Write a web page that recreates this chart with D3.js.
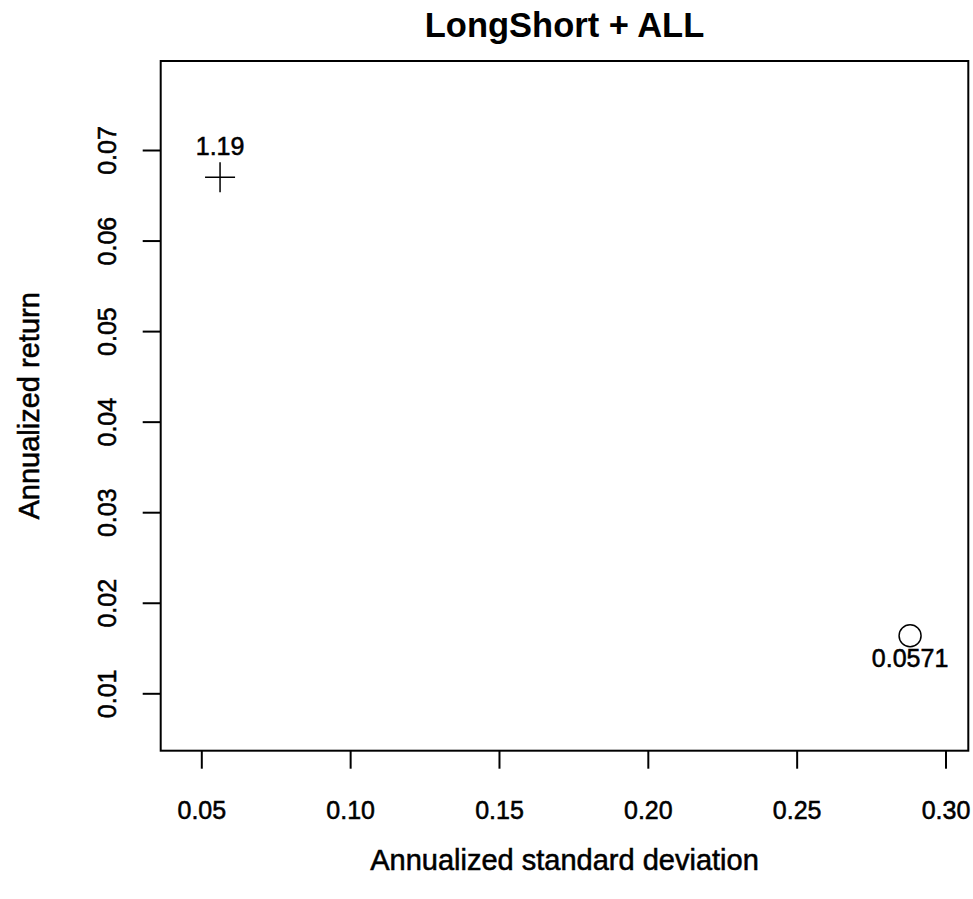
<!DOCTYPE html>
<html>
<head>
<meta charset="utf-8">
<script src="https://cdn.jsdelivr.net/npm/d3@7"></script>
<style>
  body { margin: 0; background: #fff; }
  svg text { font-family: "Liberation Sans", Arial, sans-serif; fill: #000; }
  svg text.heavy { stroke: #000; stroke-width: 0.55px; }
</style>
</head>
<body>
<div id="chart_container"></div>
<script>
const chartTitle = "LongShort + ALL";
const xTitle = "Annualized standard deviation";
const yTitle = "Annualized return";

const xTicks = [0.05, 0.1, 0.15, 0.2, 0.25, 0.3];
const yTicks = [0.01, 0.02, 0.03, 0.04, 0.05, 0.06, 0.07];

// annualized std dev / return for each series, plus the printed ratio
const sdValues = [0.0563, 0.2881];
const retValues = [0.0670, 0.01635];
const pointLabels = ["1.19", "0.0571"];
const pointShapes = ["cross", "circle"];
const labelSide = ["above", "below"];

let width = 973;
let height = 899;
let margin = { left: 160.7, right: 4.7, top: 61, bottom: 148.3 };

let svg = d3
  .select("#chart_container")
  .append("svg")
  .attr("width", width)
  .attr("height", height);

let x = d3
  .scaleLinear()
  .domain([0.03636, 0.30766])
  .range([margin.left, width - margin.right]);
let y = d3
  .scaleLinear()
  .domain([0.003661, 0.07983])
  .range([height - margin.bottom, margin.top]);

// x axis
let xAxis = svg
  .append("g")
  .attr("transform", "translate(0," + (height - margin.bottom) + ")")
  .call(
    d3.axisBottom(x)
      .tickValues(xTicks)
      .tickSize(18)
      .tickPadding(33)
      .tickFormat(d3.format(".2f"))
  );
xAxis.select(".domain").remove();
xAxis.selectAll("line").attr("stroke", "#000").attr("stroke-width", 2);
xAxis
  .selectAll("text")
  .attr("class", "heavy")
  .attr("font-size", "25px")
  .attr("font-family", null);

// y axis, labels turned like R does
let yAxis = svg
  .append("g")
  .attr("transform", "translate(" + margin.left + ",0)")
  .call(
    d3.axisLeft(y)
      .tickValues(yTicks)
      .tickSize(18)
      .tickFormat(d3.format(".2f"))
  );
yAxis.select(".domain").remove();
yAxis.selectAll("line").attr("stroke", "#000").attr("stroke-width", 2);
yAxis
  .selectAll("text")
  .attr("class", "heavy")
  .attr("x", 0)
  .attr("y", 0)
  .attr("dy", null)
  .attr("text-anchor", "middle")
  .attr("transform", "translate(-44.7,0) rotate(-90)")
  .attr("font-size", "25px")
  .attr("font-family", null);

// plot box
svg
  .append("rect")
  .attr("x", margin.left)
  .attr("y", margin.top)
  .attr("width", width - margin.left - margin.right)
  .attr("height", height - margin.top - margin.bottom)
  .attr("fill", "none")
  .attr("stroke", "#000")
  .attr("stroke-width", 2);

// points
let pts = svg
  .append("g")
  .selectAll("g")
  .data(sdValues)
  .join("g")
  .attr("transform", function (d, i) {
    return "translate(" + x(d) + "," + y(retValues[i]) + ")";
  });

pts.each(function (d, i) {
  let g = d3.select(this);
  if (pointShapes[i] == "circle") {
    g.append("circle")
      .attr("r", 11)
      .attr("fill", "none")
      .attr("stroke", "#000")
      .attr("stroke-width", 1.5);
  } else {
    g.append("path")
      .attr("d", "M-15,0H15M0,-15V15")
      .attr("stroke", "#000")
      .attr("stroke-width", 1.5);
  }
  g.append("text")
    .text(pointLabels[i])
    .attr("class", "heavy")
    .attr("text-anchor", "middle")
    .attr("y", labelSide[i] == "above" ? -22 : 31)
    .attr("font-size", "25px");
});

// titles
svg
  .append("text")
  .text(chartTitle)
  .attr("x", (margin.left + width - margin.right) / 2)
  .attr("y", 37)
  .attr("text-anchor", "middle")
  .attr("font-size", "34.5px")
  .attr("font-weight", "bold");

svg
  .append("text")
  .text(xTitle)
  .attr("class", "heavy")
  .attr("x", (margin.left + width - margin.right) / 2)
  .attr("y", 870)
  .attr("text-anchor", "middle")
  .attr("font-size", "29px");

svg
  .append("text")
  .text(yTitle)
  .attr("class", "heavy")
  .attr("text-anchor", "middle")
  .attr("font-size", "29px")
  .attr(
    "transform",
    "translate(38.5," + (margin.top + height - margin.bottom) / 2 + ") rotate(-90)"
  );
</script>
</body>
</html>
